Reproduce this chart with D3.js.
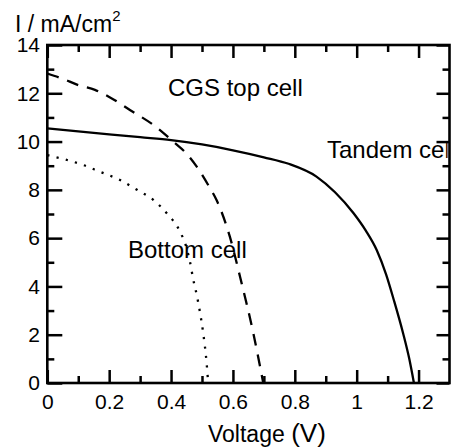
<!DOCTYPE html>
<html>
<head>
<meta charset="utf-8">
<script src="https://cdn.jsdelivr.net/npm/d3@7/dist/d3.min.js"></script>
<style>
  html, body { margin: 0; padding: 0; background: #fff; }
  svg { display: block; }
  text { font-family: "Liberation Sans", Arial, Helvetica, sans-serif; fill: #000; }
</style>
</head>
<body>
<script>
// J–V curves of a CGS / bottom-cell tandem device
const voltageMajor = [0, 0.2, 0.4, 0.6, 0.8, 1.0, 1.2];
const voltageMinor = [0.1, 0.3, 0.5, 0.7, 0.9, 1.1];
const currentMajor = [0, 2, 4, 6, 8, 10, 12, 14];
const currentMinor = [1, 3, 5, 7, 9, 11, 13];

const tandemV = [0, 0.1, 0.2, 0.3, 0.4, 0.5, 0.6, 0.7, 0.78, 0.87, 0.93, 0.99, 1.03, 1.065, 1.095, 1.12, 1.15, 1.17, 1.185];
const tandemI = [10.55, 10.42, 10.3, 10.18, 10.06, 9.88, 9.64, 9.35, 9.08, 8.55, 7.9, 7.03, 6.3, 5.5, 4.5, 3.44, 2.06, 1.0, 0];

const topV = [0, 0.05, 0.1, 0.154, 0.2, 0.267, 0.35, 0.407, 0.45, 0.483, 0.52, 0.547, 0.59, 0.623, 0.666, 0.698];
const topI = [12.82, 12.6, 12.34, 12.14, 11.85, 11.31, 10.62, 10.0, 9.5, 8.96, 8.2, 7.58, 6.06, 4.4, 2.06, 0];

const bottomV = [0, 0.06, 0.116, 0.17, 0.235, 0.29, 0.343, 0.386, 0.429, 0.45, 0.461, 0.472, 0.483, 0.494, 0.504, 0.515, 0.52];
const bottomI = [9.44, 9.25, 9.03, 8.75, 8.41, 8.0, 7.58, 7.03, 6.27, 5.6, 5.03, 4.27, 3.65, 2.89, 2.06, 0.82, 0];

const W = 451, H = 447;
const svg = d3.select("body").append("svg").attr("width", W).attr("height", H);

const x = d3.scaleLinear().domain([0, 1.3]).range([47.3, 449.5]);
const y = d3.scaleLinear().domain([0, 14]).range([383, 45]);

const zip = (vs, is) => vs.map((v, k) => [v, is[k]]);
const line = d3.line().x(d => x(d[0])).y(d => y(d[1])).curve(d3.curveMonotoneX);

svg.append("defs").append("clipPath").attr("id", "plot")
  .append("rect").attr("x", x(0)).attr("y", y(14))
  .attr("width", x(1.3) - x(0) - 2).attr("height", y(0) - y(14));

// curves
const curves = svg.append("g").attr("fill", "none").attr("stroke", "#000");
curves.append("path").attr("d", line(zip(tandemV, tandemI)))
  .attr("stroke-width", 2.3);
curves.append("path").attr("d", line(zip(topV, topI)))
  .attr("stroke-width", 2.3).attr("stroke-dasharray", "12,9");
curves.append("path").attr("d", line(zip(bottomV, bottomI)))
  .attr("stroke-width", 2.3).attr("stroke-dasharray", "2.2,7.3");

// axes with inward ticks on all four sides
function styleAxis(g) {
  g.select(".domain").remove();
  g.selectAll(".tick line").attr("stroke", "#000").attr("stroke-width", 2.5);
  g.selectAll(".tick text").style("font-size", "21px").attr("fill", "#000");
}
const noLabel = () => "";

svg.append("g").attr("transform", `translate(0,${y(0)})`)
  .call(d3.axisBottom(x).tickValues(voltageMajor).tickSize(-13).tickPadding(11)
    .tickFormat(d => d === 1 ? "1" : d3.format("")(d)))
  .call(styleAxis);
svg.append("g").attr("transform", `translate(0,${y(0)})`)
  .call(d3.axisBottom(x).tickValues(voltageMinor).tickSize(-7).tickFormat(noLabel))
  .call(styleAxis);
svg.append("g").attr("transform", `translate(0,${y(14)})`)
  .call(d3.axisTop(x).tickValues(voltageMajor).tickSize(-13).tickFormat(noLabel))
  .call(styleAxis);
svg.append("g").attr("transform", `translate(0,${y(14)})`)
  .call(d3.axisTop(x).tickValues(voltageMinor).tickSize(-7).tickFormat(noLabel))
  .call(styleAxis);

svg.append("g").attr("transform", `translate(${x(0)},0)`)
  .call(d3.axisLeft(y).tickValues(currentMajor).tickSize(-15).tickPadding(7.3))
  .call(styleAxis);
svg.append("g").attr("transform", `translate(${x(0)},0)`)
  .call(d3.axisLeft(y).tickValues(currentMinor).tickSize(-7).tickFormat(noLabel))
  .call(styleAxis);
svg.append("g").attr("transform", `translate(${x(1.3)},0)`)
  .call(d3.axisRight(y).tickValues(currentMajor).tickSize(-13).tickFormat(noLabel))
  .call(styleAxis);
svg.append("g").attr("transform", `translate(${x(1.3)},0)`)
  .call(d3.axisRight(y).tickValues(currentMinor).tickSize(-7).tickFormat(noLabel))
  .call(styleAxis);

// curve labels
const labels = svg.append("g").attr("clip-path", "url(#plot)").style("font-size", "24px");
labels.append("text").attr("x", 168).attr("y", 96).text("CGS top cell");
labels.append("text").attr("x", 327).attr("y", 158).text("Tandem cell");
labels.append("text").attr("x", 128).attr("y", 258).text("Bottom cell");

// frame
svg.append("rect")
  .attr("x", x(0)).attr("y", y(14))
  .attr("width", x(1.3) - x(0)).attr("height", y(0) - y(14))
  .attr("fill", "none").attr("stroke", "#000").attr("stroke-width", 2.6);

// axis titles
const yt = svg.append("text").attr("x", 15).attr("y", 32).style("font-size", "23px");
yt.append("tspan").text("I / mA/cm");
yt.append("tspan").attr("dy", -11).style("font-size", "15px").text("2");

const xt = svg.append("text").attr("x", 208).attr("y", 442).style("font-size", "23px");
xt.append("tspan").text("Voltage ");
xt.append("tspan").style("font-size", "26px").text("(V)");
</script>
</body>
</html>
